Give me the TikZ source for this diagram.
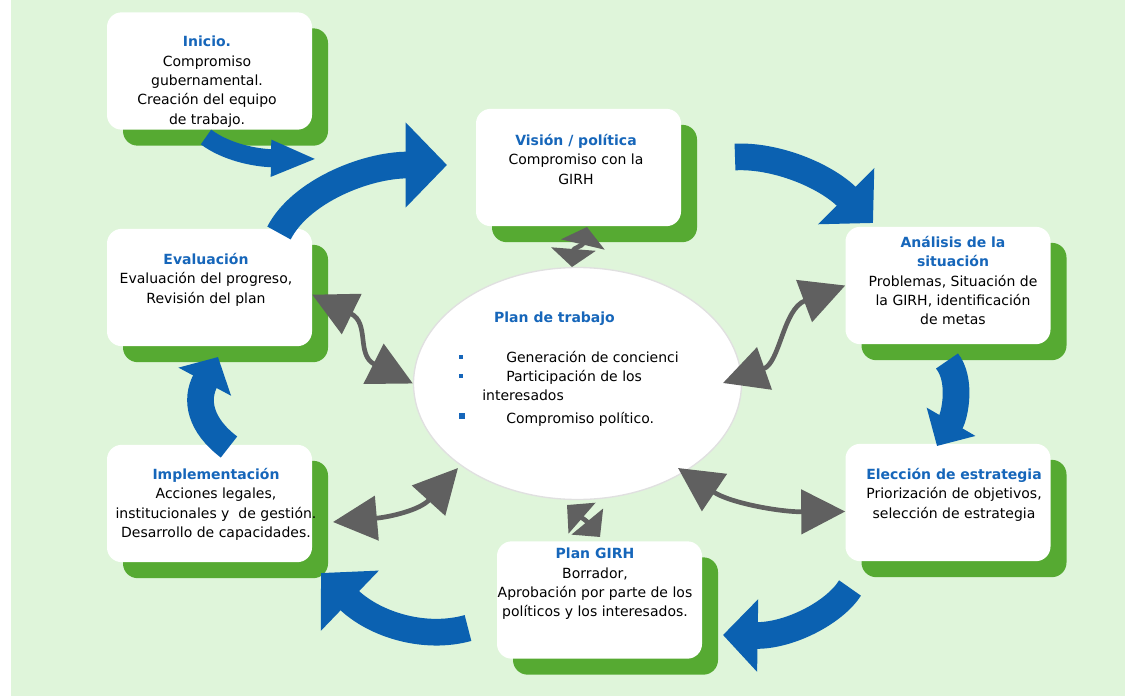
\documentclass[tikz,border=0pt]{standalone}
\usepackage{fontspec}
\setmainfont{DejaVu Sans}
\usetikzlibrary{arrows.meta,shapes.geometric,shadows}

\definecolor{meadow}{RGB}{223,245,218}
\definecolor{leaf}{RGB}{86,170,50}
\definecolor{cycleblue}{RGB}{11,97,177}
\definecolor{headblue}{RGB}{22,102,186}
\definecolor{linkgray}{RGB}{96,96,96}
\definecolor{rim}{RGB}{224,224,224}
\newcommand{\cardhead}[1]{{\bfseries\color{headblue}#1}}

\begin{document}
\begin{tikzpicture}
[
x=0.75pt,y=-0.75pt,
card/.style={fill=white,rounded corners=11pt,minimum width=153.75pt,minimum height=88pt,inner sep=0pt,
            general shadow={fill=leaf,shadow xshift=12pt,shadow yshift=-12pt}},
cardtext/.style={anchor=north,align=center,inner sep=0pt,font=\fontsize{10.5pt}{14.5pt}\selectfont},
itemtext/.style={anchor=base west,inner sep=0pt,font=\fontsize{10.5pt}{14.5pt}\selectfont},
sqdot/.style={fill=headblue,inner sep=0pt,minimum size=#1},
bluecurve/.style 2 args={draw=cycleblue,line width=20pt,arrows={-Triangle[length=#1,width=#2]}},
grayboth/.style 2 args={draw=linkgray,line width=3.5pt,arrows={Triangle[length=#1,width=#2]-Triangle[length=#1,width=#2]}},
]

%Background
\fill[meadow] (11,0) rectangle (1125,696);
\useasboundingbox (0,0) rectangle (1125,696);

%Place the cards
\node[card] (inicio) at (209.5,71) {};
\node[card] (vision) at (578.5,167.5) {};
\node[card] (analisis) at (948,285.5) {};
\node[card] (eleccion) at (948,502.5) {};
\node[card] (girh) at (599.5,600) {};
\node[card] (evaluacion) at (209.5,287.5) {};
\node[card] (implementacion) at (209.5,503.5) {};
\node[ellipse,draw=rim,line width=1pt,fill=white,minimum width=246pt,minimum height=174pt,inner sep=0pt] (plan) at (577.5,383.5) {};

%Cycle arrows
\coordinate (b1s) at (206,137);
\coordinate (b1e) at (317,159);
\coordinate (b2s) at (279,233);
\coordinate (b2e) at (447,165);
\coordinate (b3s) at (735,157);
\coordinate (b3e) at (873,223);
\coordinate (b4s) at (947,361);
\coordinate (b4e) at (937,446);
\coordinate (b5s) at (850,588);
\coordinate (b5e) at (723,635);
\coordinate (b6s) at (468,628);
\coordinate (b6e) at (321,573);
\coordinate (b7s) at (229,447);
\coordinate (b7e) at (218,357);
\draw[bluecurve={34.5pt}{25pt},line width=13.5pt] (b1s) .. controls (226,152) and (255,158) .. (b1e);
\draw[bluecurve={31pt}{62pt}] (b2s) .. controls (300,192) and (365,165) .. (b2e);
\draw[bluecurve={28.5pt}{58pt}] (b3s) .. controls (775,155) and (825,175) .. (b3e);
\draw[bluecurve={21pt}{41pt}] (b4s) .. controls (962,380) and (955,415) .. (b4e);
\draw[bluecurve={26pt}{53pt}] (b5s) .. controls (835,612) and (790,636) .. (b5e);
\draw[bluecurve={30pt}{61pt}] (b6s) .. controls (425,640) and (375,625) .. (b6e);
\draw[bluecurve={21pt}{43.5pt}] (b7s) .. controls (200,425) and (195,400) .. (b7e);

%Links to the work plan
\coordinate (g1a) at (572,267);
\coordinate (g1b) at (587,227);
\coordinate (g2a) at (567,505);
\coordinate (g2b) at (600,537);
\coordinate (g4a) at (333,522);
\coordinate (g4b) at (458,468);
\coordinate (g5a) at (723,383);
\coordinate (g6a) at (678,468);
\draw[grayboth={33pt}{33pt}] (evaluacion.-4) .. controls (370,323) and (356,355) .. (plan.west);
\draw[grayboth={33pt}{33pt}] (g4a) .. controls (390,517) and (420,510) .. (g4b);
\draw[grayboth={33pt}{33pt}] (g5a) .. controls (780,363) and (783,309) .. (analisis.west);
\draw[grayboth={33pt}{33pt}] (g6a) .. controls (730,503) and (780,512) .. (eleccion.185);
\draw[grayboth={13.5pt}{33pt}] (g1a) .. controls (573.5,248) and (582.5,246) .. (g1b);
\draw[grayboth={15pt}{30pt}] (g2a) .. controls (583,519) and (586,520) .. (g2b);

%Card texts
\node[cardtext] (inicio-t) at (207,36) {\cardhead{Inicio.}\\Compromiso\\gubernamental.\\Creación del equipo\\de trabajo.};
\node[cardtext] (vision-t) at (576,134) {\cardhead{Visión / política}\\Compromiso con la\\GIRH};
\node[cardtext] (analisis-t) at (953,236) {\cardhead{Análisis de la}\\\cardhead{situación}\\Problemas, Situación de\\la GIRH, identificación\\de metas};
\node[cardtext] (eleccion-t) at (954,468) {\cardhead{Elección de estrategia}\\Priorización de objetivos,\\selección de estrategia};
\node[cardtext] (girh-t) at (595,548) {\cardhead{Plan GIRH}\\Borrador,\\Aprobación por parte de los\\políticos y los interesados.};
\node[cardtext] (evaluacion-t) at (206,253) {\cardhead{Evaluación}\\Evaluación del progreso,\\Revisión del plan};
\node[cardtext] (implementacion-t) at (216,468) {\cardhead{Implementación}\\Acciones legales,\\institucionales y\ \ de gestión.\\Desarrollo de capacidades.};

%Work plan text
\node[cardtext,anchor=center] (plan-t) at (554.5,319) {\cardhead{Plan de trabajo}};
\node[sqdot=3pt] (dot1) at (461,357) {};
\node[sqdot=3pt] (dot2) at (461,376) {};
\node[sqdot=4.5pt] (dot3) at (462,416) {};
\node[itemtext] (item1) at (506,362) {Generación de concienci};
\node[itemtext] (item2) at (506,381) {Participación de los};
\node[itemtext] (item2b) at (482,400) {interesados};
\node[itemtext] (item3) at (506,423) {Compromiso político.};
\end{tikzpicture}
\end{document}
